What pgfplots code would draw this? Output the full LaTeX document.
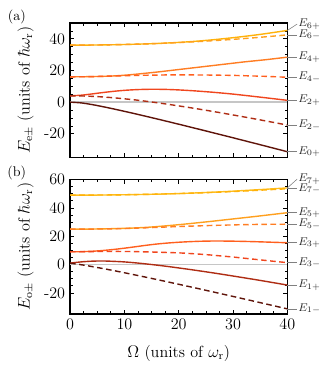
\documentclass[border=0pt]{standalone}
\usepackage{pgfplots}
\pgfplotsset{compat=1.18}
\usepackage{pgfplotstable}
\usepackage{xcolor}
\definecolor{c1}{RGB}{95,20,10}
\definecolor{c2}{RGB}{175,45,20}
\definecolor{c3}{RGB}{240,70,30}
\definecolor{c4}{RGB}{255,95,30}
\definecolor{c5}{RGB}{255,125,35}
\definecolor{c6}{RGB}{255,160,30}
\definecolor{c7}{RGB}{255,178,10}
\definecolor{c8}{RGB}{255,190,30}

% even levels (panel a)
\pgfplotstableread{
W   e0p     e2m     e2p   e4m    e4p   e6m    e6p
0   0       4       4     16     16    36     36
2   -0.46   3.92    4.37  16.03  16.03 36.02  36.02
4   -1.51   3.67    5.17  16.13  16.13 36.07  36.07
6   -2.83   3.28    6.05  16.3   16.3  36.15  36.15
8   -4.28   2.75    6.83  16.5   16.55 36.26  36.26
10  -5.80   2.10    7.45  16.65  17.0  36.41  36.41
12  -7.36   1.40    7.87  16.85  17.6  36.59  36.59
14  -8.97   0.55    8.09  17.0   18.3  36.80  36.80
16  -10.60  -0.37   8.13  17.1   19.0  37.04  37.05
18  -12.26  -1.34   8.00  17.2   19.8  37.32  37.37
20  -13.94  -2.38   7.72  17.2   20.6  37.63  37.73
22  -15.63  -3.44   7.33  17.2   21.4  37.97  38.17
24  -17.33  -4.55   6.86  17.15  22.2  38.34  38.69
26  -19.05  -5.70   6.33  17.1   23.0  38.75  39.30
28  -20.78  -6.88   5.73  17.0   23.8  39.19  39.99
30  -22.51  -8.10   5.08  16.9   24.6  39.66  40.71
32  -24.26  -9.32   4.33  16.7   25.4  40.16  41.51
34  -26.01  -10.58  3.55  16.5   26.1  40.69  42.34
36  -27.77  -11.86  2.76  16.3   26.8  41.27  43.27
38  -29.54  -13.16  1.95  16.0   27.6  41.87  44.27
40  -31.31  -14.49  1.14  15.7   28.4  42.5   45.3
}\evendata

% odd levels (panel b)
\pgfplotstableread{
W   o1m     o1p     o3m   o3p    o5m    o5p    o7m    o7p
0   1       1       9     9      25     25     49     49
2   -0.11   1.86    9.05  9.08   25.01  25.01  49.01  49.01
4   -1.39   2.38    9.14  9.37   25.05  25.08  49.04  49.04
6   -2.79   2.52    9.22  9.9    25.12  25.2   49.1   49.1
8   -4.25   2.26    9.25  10.65  25.25  25.35  49.18  49.18
10  -5.79   1.86    9.23  11.55  25.45  25.55  49.28  49.28
12  -7.36   1.22    9.12  12.55  25.7   25.85  49.4   49.4
14  -8.97   0.44    8.95  13.6   25.95  26.25  49.54  49.54
16  -10.60  -0.42   8.75  14.5   26.25  26.8   49.7   49.7
18  -12.26  -1.37   8.5   15.2   26.55  27.45  49.9   49.9
20  -13.94  -2.40   8.25  15.75  26.85  28.15  50.1   50.12
22  -15.63  -3.45   7.8   16.15  27.1   28.9   50.35  50.4
24  -17.33  -4.56   7.3   16.45  27.35  29.7   50.6   50.7
26  -19.05  -5.70   6.7   16.6   27.6   30.5   50.9   51.05
28  -20.78  -6.88   6.0   16.6   27.8   31.35  51.2   51.4
30  -22.51  -8.10   5.3   16.5   28.0   32.2   51.55  51.8
32  -24.26  -9.33   4.5   16.35  28.15  33.05  51.9   52.25
34  -26.01  -10.58  3.7   16.15  28.3   33.9   52.3   52.7
36  -27.77  -11.86  2.9   15.9   28.4   34.8   52.7   53.15
38  -29.54  -13.16  2.1   15.65  28.45  35.7   53.1   53.65
40  -31.31  -14.49  1.35  15.4   28.5   36.6   53.5   54.1
}\odddata

% level label with a grey pointer from the right edge
\newcommand{\elab}[3]{%
  \draw[gray, line width=0.4pt] (axis cs:40,#1) -- (axis cs:41.8,#2)
    node[right, inner sep=0.6pt, font=\footnotesize, text=black!85] {$E_{#3}$};}

\pgfplotsset{
  panel/.style={
    width=155pt, height=96pt, scale only axis,
    xmin=0, xmax=40,
    xtick={0,10,...,40}, minor x tick num=3,
    ytick={-20,0,...,60}, minor y tick num=3,
    tick align=inside,
    major tick length=3pt, minor tick length=2pt,
    every tick/.style={black, line width=0.5pt},
    axis line style={line width=1.2pt},
    clip=false,
    /pgf/number format/assume math mode=true,
    tick label style={font=\fontsize{11.5}{13}\selectfont},
    label style={font=\fontsize{11.5}{13}\selectfont},
    ylabel style={at={(axis description cs:-0.205,0.5)}, anchor=center},
  },
  lev/.style={line width=1pt, smooth},
  dsh/.style={lev, dash pattern=on 4pt off 2.5pt},
}

\begin{document}
\begin{tikzpicture}
\begin{axis}[panel, name=a,
  ymin=-35, ymax=50,
  xticklabels={},
  ylabel={$E_{\mathrm{e}\pm}$ (units of $\hbar\omega_{\mathrm{r}}$)},
]
  \addplot[gray!45, line width=1pt] coordinates {(0,0) (40,0)};
  \addplot[lev, c1] table[x=W, y=e0p] {\evendata};
  \addplot[lev, c3] table[x=W, y=e2p] {\evendata};
  \addplot[lev, c5] table[x=W, y=e4p] {\evendata};
  \addplot[lev, c7] table[x=W, y=e6p] {\evendata};
  \addplot[dsh, c2] table[x=W, y=e2m] {\evendata};
  \addplot[dsh, c4] table[x=W, y=e4m] {\evendata};
  \addplot[dsh, c6] table[x=W, y=e6m] {\evendata};
  \elab{45.3}{49.3}{6+}
  \elab{42.5}{42.5}{6-}
  \elab{28.4}{28.4}{4+}
  \elab{15.7}{15.7}{4-}
  \elab{1.14}{1.14}{2+}
  \elab{-14.49}{-14.49}{2-}
  \elab{-31.31}{-31.31}{0+}
  \node at (rel axis cs:0,1) [xshift=-38pt, yshift=4.6pt] {(a)};
\end{axis}

\begin{axis}[panel, name=b,
  at={(a.south west)}, anchor=north west, yshift=-15.7pt,
  ymin=-35, ymax=60,
  xlabel={$\Omega$ (units of $\omega_{\mathrm{r}}$)},
  xlabel style={at={(axis description cs:0.5,0)}, anchor=center, yshift=-28pt},
  ylabel={$E_{\mathrm{o}\pm}$ (units of $\hbar\omega_{\mathrm{r}}$)},
]
  \addplot[gray!45, line width=1pt] coordinates {(0,0) (40,0)};
  \addplot[lev, c2] table[x=W, y=o1p] {\odddata};
  \addplot[lev, c4] table[x=W, y=o3p] {\odddata};
  \addplot[lev, c6] table[x=W, y=o5p] {\odddata};
  \addplot[lev, c8] table[x=W, y=o7p] {\odddata};
  \addplot[dsh, c1] table[x=W, y=o1m] {\odddata};
  \addplot[dsh, c3] table[x=W, y=o3m] {\odddata};
  \addplot[dsh, c5] table[x=W, y=o5m] {\odddata};
  \addplot[dsh, c7] table[x=W, y=o7m] {\odddata};
  \elab{54.1}{60.3}{7+}
  \elab{53.5}{53.5}{7-}
  \elab{36.6}{36.6}{5+}
  \elab{28.5}{28.5}{5-}
  \elab{15.4}{15.4}{3+}
  \elab{1.35}{1.35}{3-}
  \elab{-14.49}{-14.49}{1+}
  \elab{-31.31}{-31.31}{1-}
  \node at (rel axis cs:0,1) [xshift=-38pt, yshift=4.6pt] {(b)};
\end{axis}

% page margins as in the reference
\path ([shift={(-50pt,-47pt)}]b.south west) rectangle ([shift={(31.4pt,16.4pt)}]a.north east);
\end{tikzpicture}
\end{document}
